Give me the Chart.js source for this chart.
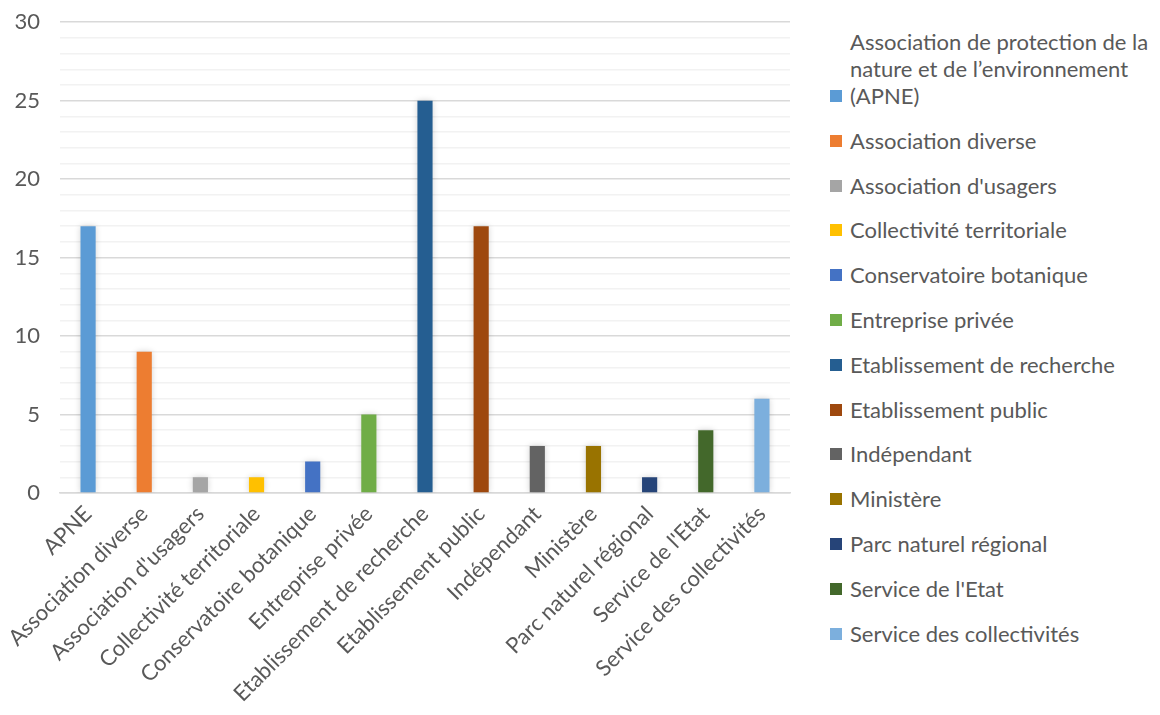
<!DOCTYPE html>
<html>
<head>
<meta charset="utf-8">
<script src="https://cdn.jsdelivr.net/npm/chart.js@4.4.1/dist/chart.umd.min.js"></script>
<style>
    body { margin: 0; background: #fff; }
    #wrap { position: relative; width: 1160px; height: 715px; overflow: hidden; }
    #chart-box { position: absolute; left: 0; top: -11px; width: 800px; height: 726px; }
    #legend { position: absolute; left: 830px; top: 28px; width: 330px; font-family: Lato, "Open Sans", sans-serif; font-size: 22px; color: #595959; }
    .leg-item { display: flex; align-items: flex-end; margin-bottom: 17.8px; line-height: 27px; }
    .leg-box { width: 12px; height: 12px; flex: none; margin: 0 8px 7px 0; }
    .leg-text { width: 310px; }
</style>
</head>
<body>
<div id="wrap">
    <div id="chart-box"><canvas id="chart"></canvas></div>
    <div id="legend"></div>
</div>
<script>
const categories = ['APNE', 'Association diverse', "Association d'usagers", 'Collectivité territoriale', 'Conservatoire botanique', 'Entreprise privée', 'Etablissement de recherche', 'Etablissement public', 'Indépendant', 'Ministère', 'Parc naturel régional', "Service de l'Etat", 'Service des collectivités'];
const legendLabels = ['Association de protection de la nature et de l’environnement (APNE)', 'Association diverse', "Association d'usagers", 'Collectivité territoriale', 'Conservatoire botanique', 'Entreprise privée', 'Etablissement de recherche', 'Etablissement public', 'Indépendant', 'Ministère', 'Parc naturel régional', "Service de l'Etat", 'Service des collectivités'];
const counts = [17, 9, 1, 1, 2, 5, 25, 17, 3, 3, 1, 4, 6];
const barColors = ['#5B9BD5', '#ED7D31', '#A5A5A5', '#FFC000', '#4472C4', '#70AD47', '#255E91', '#9E480E', '#636363', '#997300', '#264478', '#43682B', '#7CAFDD'];

const textColor = '#595959';
const font = { family: 'Lato, "Open Sans", sans-serif', size: 22 };

// soft shadow behind the bars, like the office chart
const barShadow = {
    id: 'barShadow',
    beforeDatasetsDraw(chart) {
        const ctx = chart.ctx;
        ctx.save();
        ctx.shadowColor = 'rgba(0,0,0,0.18)';
        ctx.shadowBlur = 6;
    },
    afterDatasetsDraw(chart) {
        chart.ctx.restore();
    }
};

const chart = new Chart(document.getElementById('chart'), {
    type: 'bar',
    data: {
        labels: categories,
        datasets: [{
            data: counts,
            backgroundColor: barColors,
            borderWidth: 0,
            barPercentage: 0.27,
            categoryPercentage: 1
        }]
    },
    options: {
        responsive: true,
        maintainAspectRatio: false,
        animation: false,
        layout: { padding: { top: 1, right: 10, left: 0, bottom: 0 } },
        plugins: { legend: { display: false }, tooltip: { enabled: false } },
        scales: {
            x: {
                grid: { display: false },
                border: { color: '#D9D9D9', width: 1.5 },
                ticks: { color: textColor, font: font, minRotation: 45, maxRotation: 45, autoSkip: false, padding: 0 },
                afterFit: (scale) => { scale.height = 222; }
            },
            y: {
                min: 0,
                max: 30,
                border: { display: false },
                grid: {
                    drawTicks: false,
                    color: (ctx) => (ctx.tick && ctx.tick.value % 5 === 0) ? '#D9D9D9' : '#F2F2F2',
                    lineWidth: 1.5
                },
                ticks: {
                    stepSize: 1,
                    autoSkip: false,
                    color: textColor,
                    font: font,
                    padding: 20,
                    callback: (v) => v % 5 === 0 ? v : ''
                },
                afterFit: (scale) => { scale.width = 60; }
            }
        }
    },
    plugins: [barShadow]
});

// legend built from the chart's own data
const legendEl = document.getElementById('legend');
legendLabels.forEach((label, i) => {
    const item = document.createElement('div');
    item.className = 'leg-item';
    item.innerHTML = `<span class="leg-box" style="background:${chart.data.datasets[0].backgroundColor[i]}"></span><span class="leg-text">${label}</span>`;
    legendEl.appendChild(item);
});
</script>
</body>
</html>
